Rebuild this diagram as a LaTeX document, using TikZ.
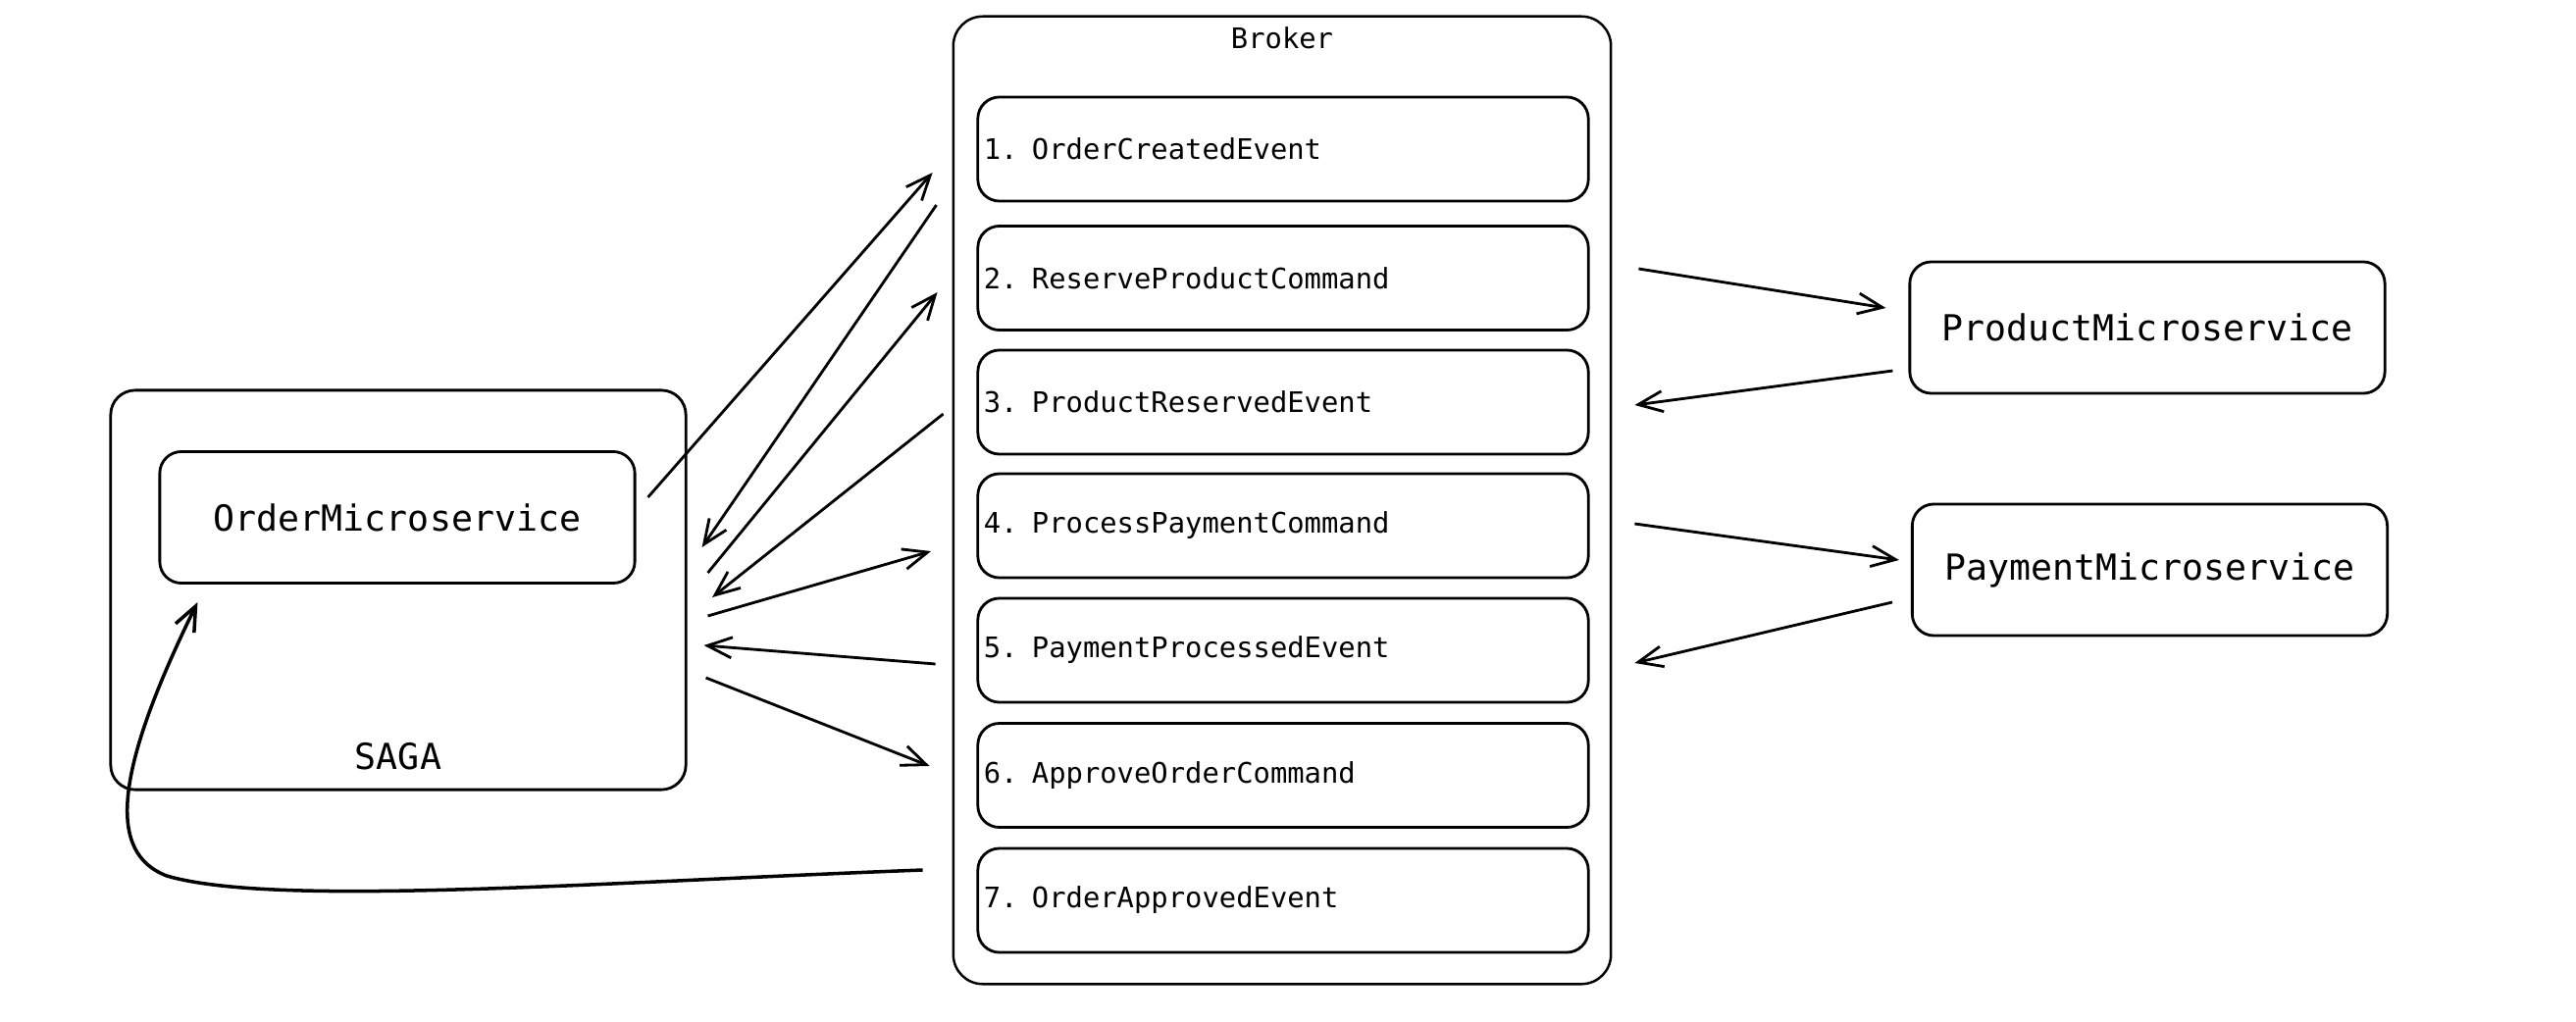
\documentclass[tikz,border=0pt]{standalone}
\usepackage{fontspec}
\newfontfamily\mono{DejaVu Sans Mono}
\usetikzlibrary{arrows.meta,calc}
\begin{document}
\begin{tikzpicture}[x=0.01cm,y=-0.01cm,
  box/.style={draw, line width=0.8pt, rounded corners=0.22cm, inner sep=0pt},
  itembox/.style={box, minimum width=6.22cm, minimum height=1.06cm, text width=6.1cm, align=left, inner xsep=0.06cm, font=\mono\fontsize{8.2}{10}\selectfont},
  svcbox/.style={box, minimum width=4.84cm, minimum height=1.34cm, font=\mono\fontsize{10.4}{12}\selectfont},
  bigtxt/.style={inner sep=0pt, font=\mono\fontsize{10.4}{12}\selectfont},
  smalltxt/.style={inner sep=0pt, font=\mono\fontsize{8.2}{10}\selectfont},
  arr/.style={line width=0.8pt, -{Straight Barb[length=0.25cm,width=0.21cm]}},
]
\useasboundingbox (0,0) rectangle (2626,1042);

% Broker container
\node[box, line width=0.7pt, rounded corners=0.3cm, minimum width=6.70cm, minimum height=9.86cm] (broker) at (1307,510) {};
\node[smalltxt] (brokerlbl) at (1307,39) {Broker};

% Broker items
\node[itembox] (i1) at (1308,152) {1. OrderCreatedEvent};
\node[itembox] (i2) at (1308,283.5) {2. ReserveProductCommand};
\node[itembox] (i3) at (1308,410) {3. ProductReservedEvent};
\node[itembox] (i4) at (1308,536) {4. ProcessPaymentCommand};
\node[itembox] (i5) at (1308,663) {5. PaymentProcessedEvent};
\node[itembox] (i6) at (1308,790.5) {6. ApproveOrderCommand};
\node[itembox] (i7) at (1308,918) {7. OrderApprovedEvent};

% SAGA container
\node[box, rounded corners=0.25cm, minimum width=5.86cm, minimum height=4.07cm] (saga) at (406,601.5) {};
\node[bigtxt] (sagalbl) at (406,771) {SAGA};
\node[svcbox] (om) at (405,527.5) {OrderMicroservice};

% Services
\node[svcbox] (pm) at (2189,334) {ProductMicroservice};
\node[svcbox] (pay) at (2191.5,581) {PaymentMicroservice};

% SAGA <-> Broker arrows
\draw[arr] ([shift={(12,-20.5)}]om.east) -- ([shift={(-20,-334)}]broker.west);
\draw[arr] ([shift={(-16,-301)}]broker.west) -- ([shift={(15,-43.5)}]saga.east);
\draw[arr] ([shift={(21,-17.5)}]saga.east) -- ([shift={(-15,-212)}]broker.west);
\draw[arr] ([shift={(-9,-88)}]broker.west) -- ([shift={(25.5,7.5)}]saga.east);
\draw[arr] ([shift={(21,26.5)}]saga.east) -- ([shift={(-21.5,52)}]broker.west);
\draw[arr] ([shift={(-17,167)}]broker.west) -- ([shift={(17,56.5)}]saga.east);
\draw[arr] ([shift={(19,89.5)}]saga.east) -- ([shift={(-23,271)}]broker.west);

% Broker <-> services arrows
\draw[arr] ([shift={(27,-236)}]broker.east) -- ([shift={(-23,-20)}]pm.west);
\draw[arr] ([shift={(-16,44)}]pm.west) -- ([shift={(23,-97)}]broker.east);
\draw[arr] ([shift={(23,24)}]broker.east) -- ([shift={(-12,-10)}]pay.west);
\draw[arr] ([shift={(-19,33)}]pay.west) -- ([shift={(23,166)}]broker.east);

% Order approved back to OrderMicroservice
\draw[arr, line width=1pt] ([shift={(-30,377)}]broker.west)
  .. controls (600,900) and (280,925) .. (170,893)
  .. controls (110,870) and (115,790) .. ([shift={(40,18)}]om.south west);
\end{tikzpicture}
\end{document}
